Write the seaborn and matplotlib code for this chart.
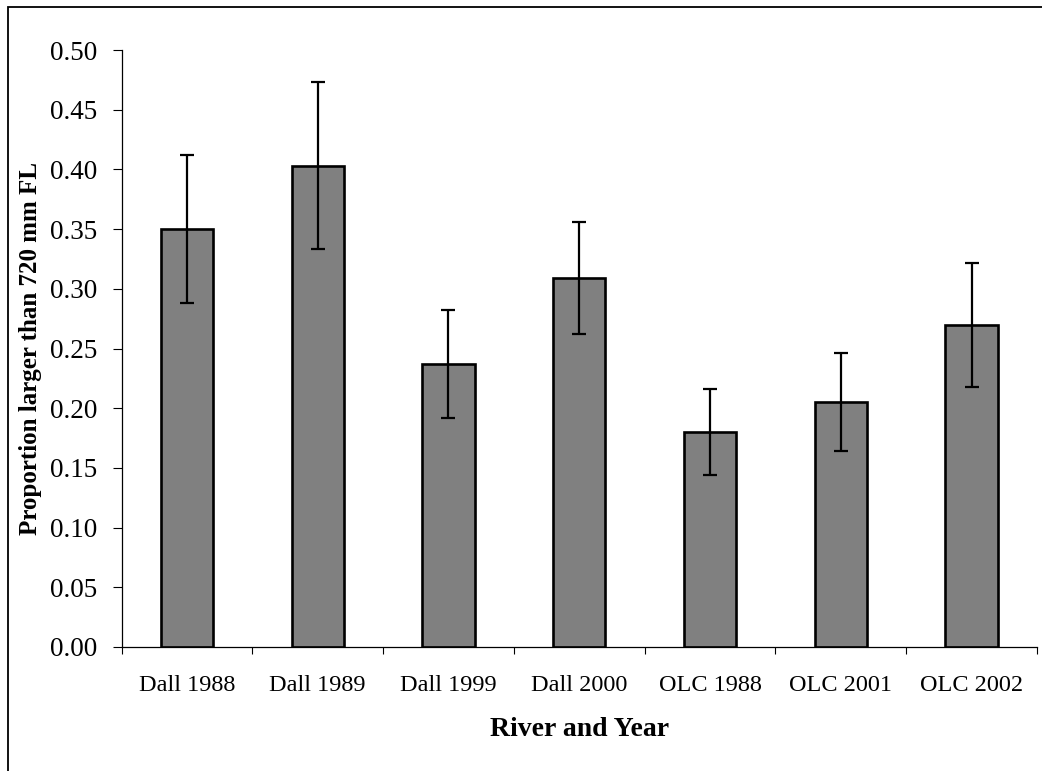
import matplotlib
matplotlib.use("Agg")
import matplotlib.pyplot as plt
from matplotlib.patches import Rectangle
from matplotlib.ticker import FixedLocator, FormatStrFormatter
import seaborn as sns
import pandas as pd

# Proportion of fish longer than 720 mm fork length, by river and year
groups = ["Dall 1988", "Dall 1989", "Dall 1999", "Dall 2000",
          "OLC 1988", "OLC 2001", "OLC 2002"]
proportion = [0.350, 0.403, 0.237, 0.309, 0.180, 0.205, 0.270]
error = [0.062, 0.070, 0.045, 0.047, 0.036, 0.041, 0.052]
y_ticks = [0.00, 0.05, 0.10, 0.15, 0.20, 0.25, 0.30, 0.35, 0.40, 0.45, 0.50]

df = pd.DataFrame({"group": groups, "proportion": proportion})

sns.set_theme(style="white")
plt.rcParams["font.family"] = ["Liberation Serif", "DejaVu Serif"]

W, H = 1042, 771
fig = plt.figure(figsize=(W / 100, H / 100), dpi=100)
ax = fig.add_axes([121.5 / W, 1 - 647 / H, (1037 - 121.5) / W, (647 - 50) / H])

sns.barplot(data=df, x="group", y="proportion", ax=ax, color="#808080",
            saturation=1, width=0.4, edgecolor="black", linewidth=1.9,
            errorbar=None)
ax.errorbar(range(len(groups)), proportion, yerr=error, fmt="none",
            ecolor="black", elinewidth=1.6, capsize=5, capthick=1.6, zorder=5)

ax.set_ylim(0, 0.5)
ax.set_xlim(-0.5, len(groups) - 0.5)
ax.yaxis.set_major_locator(FixedLocator(y_ticks))
ax.yaxis.set_major_formatter(FormatStrFormatter("%.2f"))

# category separators as minor ticks, no ticks at the bar centres
ax.xaxis.set_minor_locator(FixedLocator([i - 0.5 for i in range(len(groups) + 1)]))
ax.tick_params(axis="x", which="major", length=0, pad=20, labelsize=17.5)
ax.tick_params(axis="x", which="minor", length=5, width=0.8, color="black",
               direction="out", bottom=True)
ax.tick_params(axis="y", which="major", length=6.5, width=0.8, color="black",
               direction="out", left=True, pad=11, labelsize=19.5)
for lab in ax.get_xticklabels() + ax.get_yticklabels():
    lab.set_color("black")

for side in ["top", "right"]:
    ax.spines[side].set_visible(False)
for side in ["left", "bottom"]:
    ax.spines[side].set_color("black")
    ax.spines[side].set_linewidth(0.9)

ax.set_xlabel("River and Year", fontsize=20, fontweight="bold", color="black")
ax.set_ylabel("Proportion larger than 720 mm FL", fontsize=18,
              fontweight="bold", color="black")
ax.xaxis.set_label_coords(0.5, -0.117)
ax.yaxis.set_label_coords(-0.087, 0.5)

# outer frame around the chart area
fig.patches.append(Rectangle((7.5 / W, -0.05), 1.2, 1 - 7.5 / H + 0.05,
                             transform=fig.transFigure, fill=False,
                             edgecolor="black", linewidth=1.3))

fig.savefig("out.png", dpi=100)
